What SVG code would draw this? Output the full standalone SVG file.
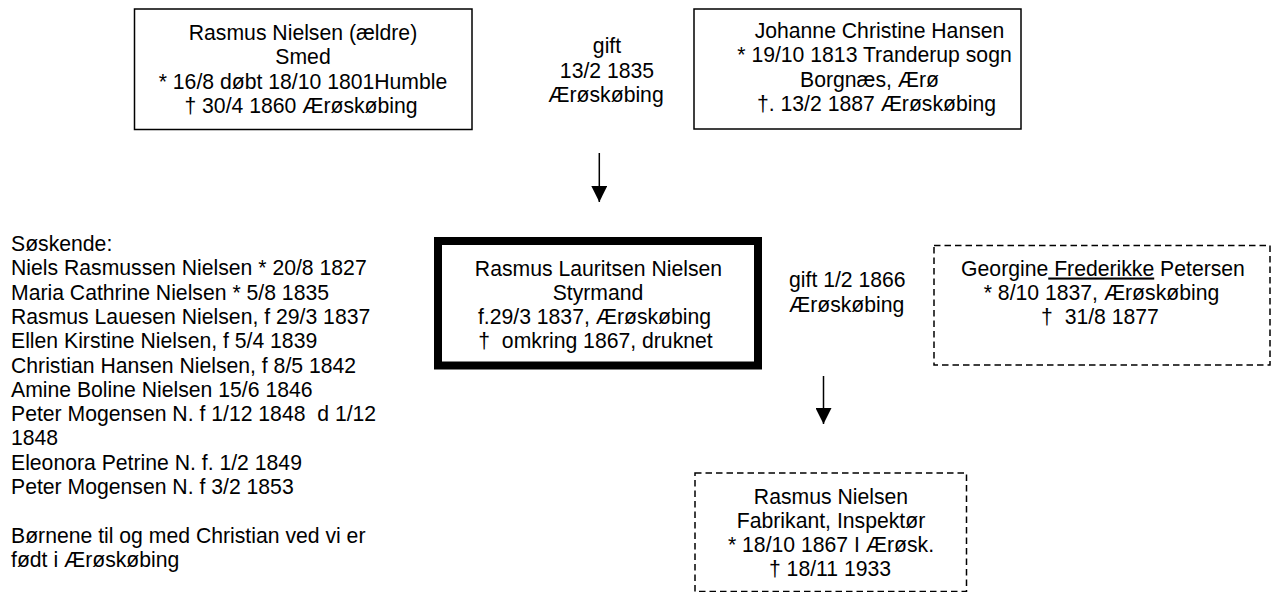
<svg xmlns="http://www.w3.org/2000/svg" width="1271" height="592" viewBox="0 0 1271 592">
<defs>
<style>
text{font-family:"Liberation Sans",Arial,sans-serif;font-size:21.2px;fill:#000;white-space:pre}
.c{text-anchor:middle}
.box{fill:#fff;stroke:#000;stroke-width:1.5}
.thick{fill:#fff;stroke:#000;stroke-width:8}
.dash{fill:#fff;stroke:#000;stroke-width:1.5;stroke-dasharray:6.5 4}
.conn{stroke:#000;stroke-width:1.5;fill:none}
</style>
<marker id="ah" markerWidth="16" markerHeight="16" viewBox="0 0 16 16" refX="16" refY="8" orient="auto" markerUnits="userSpaceOnUse">
<path d="M0,0 L16,8 L0,16 Z" fill="#000"/>
</marker>
</defs>
<rect width="1271" height="592" fill="#fff"/>
<g id="father">
<rect class="box" x="134.5" y="9" width="337.5" height="120.5"/>
<text class="c" x="303" y="40">Rasmus Nielsen (ældre)</text>
<text class="c" x="303" y="64.3">Smed</text>
<text class="c" x="303" y="88.6">* 16/8 døbt 18/10 1801Humble</text>
<text class="c" x="301" y="112.9">† 30/4 1860 Ærøskøbing</text>
</g>
<g id="marriage1">
<text class="c" x="607" y="53">gift</text>
<text class="c" x="607" y="77.5">13/2 1835</text>
<text class="c" x="606" y="101.5">Ærøskøbing</text>
</g>
<g id="mother">
<rect class="box" x="694" y="9" width="327" height="120"/>
<text class="c" x="879.5" y="37.5">Johanne Christine Hansen</text>
<text class="c" x="874.5" y="62">* 19/10 1813 Tranderup sogn</text>
<text class="c" x="869.5" y="86.5">Borgnæs, Ærø</text>
<text class="c" x="876.5" y="111">†. 13/2 1887 Ærøskøbing</text>
</g>
<g id="siblings">
<text x="11" y="251">Søskende:<tspan x="11" dy="24.3">Niels Rasmussen Nielsen * 20/8 1827</tspan><tspan x="11" dy="24.3">Maria Cathrine Nielsen * 5/8 1835</tspan><tspan x="11" dy="24.3">Rasmus Lauesen Nielsen, f 29/3 1837</tspan><tspan x="11" dy="24.3">Ellen Kirstine Nielsen, f 5/4 1839</tspan><tspan x="11" dy="24.3">Christian Hansen Nielsen, f 8/5 1842</tspan><tspan x="11" dy="24.3">Amine Boline Nielsen 15/6 1846</tspan><tspan x="11" dy="24.3">Peter Mogensen N. f 1/12 1848  d 1/12</tspan><tspan x="11" dy="24.3">1848</tspan><tspan x="11" dy="24.3">Eleonora Petrine N. f. 1/2 1849</tspan><tspan x="11" dy="24.3">Peter Mogensen N. f 3/2 1853</tspan><tspan x="11" dy="48.6">Børnene til og med Christian ved vi er</tspan><tspan x="11" dy="24.3">født i Ærøskøbing</tspan></text>
</g>
<g id="main">
<rect class="thick" x="438" y="241" width="320" height="124.5"/>
<text class="c" x="598.5" y="275.5">Rasmus Lauritsen Nielsen</text>
<text class="c" x="598" y="299.8">Styrmand</text>
<text class="c" x="594.5" y="324.1">f.29/3 1837, Ærøskøbing</text>
<text class="c" x="595.5" y="348.4">†  omkring 1867, druknet</text>
</g>
<g id="marriage2">
<text x="789" y="287">gift 1/2 1866</text>
<text x="789" y="311.5">Ærøskøbing</text>
</g>
<g id="wife">
<rect class="dash" x="934" y="245.5" width="336" height="119.5"/>
<text class="c" x="1103" y="275.5">Georgine<tspan text-decoration="underline"> Frederikke</tspan> Petersen</text>
<text class="c" x="1101.5" y="299.8">* 8/10 1837, Ærøskøbing</text>
<text class="c" x="1100" y="324.1">†  31/8 1877</text>
</g>
<g id="child">
<rect class="dash" x="695" y="473" width="271.5" height="118.5"/>
<text class="c" x="831" y="503.5">Rasmus Nielsen</text>
<text class="c" x="831" y="527.8">Fabrikant, Inspektør</text>
<text class="c" x="831" y="552.1">* 18/10 1867 I Ærøsk.</text>
<text class="c" x="830" y="576.4">† 18/11 1933</text>
</g>
<g id="connectors">
<line class="conn" x1="599.3" y1="153" x2="599.3" y2="202" marker-end="url(#ah)"/>
<line class="conn" x1="823.5" y1="376" x2="823.5" y2="424" marker-end="url(#ah)"/>
</g>
</svg>
